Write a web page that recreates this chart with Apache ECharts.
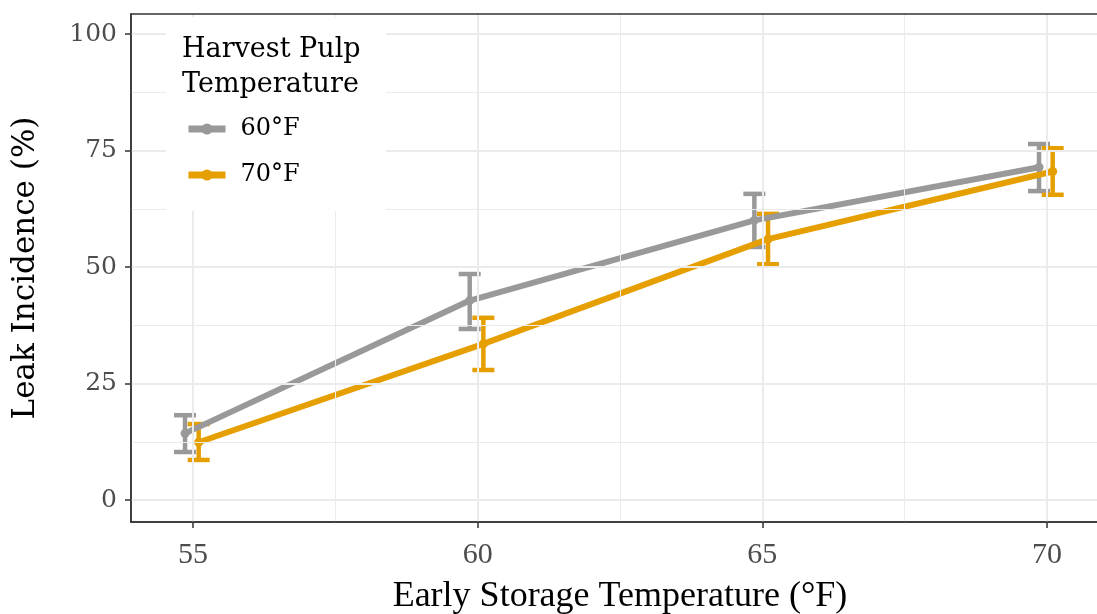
<!DOCTYPE html>
<html>
<head>
<meta charset="utf-8">
<script src="https://cdn.jsdelivr.net/npm/echarts@6/dist/echarts.min.js"></script>
<style>
html,body{margin:0;padding:0;background:#fff;overflow:hidden;}
#chart{width:1097px;height:614px;}
</style>
</head>
<body>
<div id="chart"></div>
<script>
// ---- data ----
const storageTemps = [55, 60, 65, 70];
const xTicks = [55, 60, 65, 70];
const yTicks = [0, 25, 50, 75, 100];
const seriesNames = ['60°F', '70°F'];
const mean60 = [14.3, 42.8, 60.0, 71.4];
const lo60   = [10.3, 36.7, 54.3, 66.3];
const hi60   = [18.2, 48.5, 65.7, 76.4];
const mean70 = [12.4, 33.5, 56.0, 70.5];
const lo70   = [8.6, 27.9, 50.6, 65.5];
const hi70   = [16.3, 39.1, 61.4, 75.5];
const xMinorGrid = [57.5, 62.5, 67.5];
const yMinorGrid = [12.5, 37.5, 62.5, 87.5];

// ---- styling ----
const FONT = 'DejaVu Serif';
const FONT2 = 'Liberation Serif';
const colors = ['#999999', '#E69F00'];
const dodge = [-0.14, 0.10];

const chart = echarts.init(document.getElementById('chart'), null, {renderer: 'canvas'});

function pts(means, d) { return storageTemps.map((x, i) => [x + d, means[i]]); }
function bars(lo, hi, d) { return storageTemps.map((x, i) => [x + d, lo[i], hi[i]]); }

function errRender(color) {
  return function (params, api) {
    const x = api.value(0);
    const top = api.coord([x, api.value(2)]);
    const bot = api.coord([x, api.value(1)]);
    const hw = 11;
    const style = {stroke: color, lineWidth: 4.5, fill: null};
    return {
      type: 'group',
      children: [
        {type: 'line', shape: {x1: top[0], y1: top[1], x2: bot[0], y2: bot[1]}, style},
        {type: 'line', shape: {x1: top[0] - hw, y1: top[1], x2: top[0] + hw, y2: top[1]}, style},
        {type: 'line', shape: {x1: bot[0] - hw, y1: bot[1], x2: bot[0] + hw, y2: bot[1]}, style}
      ]
    };
  };
}

const gridLineData = []
  .concat(xTicks.map(v => ({xAxis: v, lineStyle: {width: 2}})))
  .concat(xMinorGrid.map(v => ({xAxis: v, lineStyle: {width: 1}})))
  .concat(yTicks.map(v => ({yAxis: v, lineStyle: {width: 2}})))
  .concat(yMinorGrid.map(v => ({yAxis: v, lineStyle: {width: 1}})));

const option = {
  animation: false,
  backgroundColor: '#ffffff',
  grid: {left: 131, top: 14, width: 978, height: 508, outerBoundsMode: 'none', containLabel: false,
    show: true, borderColor: '#333333', borderWidth: 1.5, backgroundColor: 'transparent', z: 6},
  title: {
    text: 'Harvest Pulp\nTemperature',
    left: 182, top: 32, padding: 0, z: 12,
    textStyle: {fontFamily: FONT, fontSize: 27, fontWeight: 'normal', color: '#000', lineHeight: 35}
  },
  legend: {
    data: seriesNames,
    orient: 'vertical',
    left: 185, top: 117, padding: 0, z: 12,
    itemWidth: 37, itemHeight: 14, itemGap: 22,
    lineStyle: {width: 7},
    itemStyle: {borderWidth: 0},
    textStyle: {fontFamily: FONT, fontSize: 24, color: '#000', padding: [0, 0, 0, 10]}
  },
  graphic: [{
    type: 'rect', left: 166, top: 17, z: 10,
    shape: {width: 220, height: 194},
    style: {fill: '#ffffff'}
  }],
  xAxis: {
    type: 'value', min: 53.911, max: 71.089,
    name: 'Early Storage Temperature (°F)', nameLocation: 'middle', nameGap: 57,
    nameTextStyle: {fontFamily: FONT2, fontSize: 36, color: '#000'},
    axisLine: {show: true, onZero: false, lineStyle: {color: '#333333', width: 1.5}},
    axisTick: {show: true, customValues: xTicks, length: 6, lineStyle: {color: '#333333', width: 1.5}},
    axisLabel: {customValues: xTicks, margin: 18, fontFamily: FONT2, fontSize: 30, color: '#4d4d4d'},
    splitLine: {show: false}
  },
  yAxis: {
    type: 'value', min: -4.72, max: 104.3,
    name: 'Leak Incidence (%)', nameLocation: 'middle', nameGap: 90,
    nameTextStyle: {fontFamily: FONT, fontSize: 31, color: '#000'},
    axisLine: {show: true, onZero: false, lineStyle: {color: '#333333', width: 1.5}},
    axisTick: {show: true, customValues: yTicks, length: 6, lineStyle: {color: '#333333', width: 1.5}},
    axisLabel: {customValues: yTicks, margin: 14, fontFamily: FONT, fontSize: 25, color: '#4d4d4d'},
    splitLine: {show: false}
  },
  series: [
    {
      name: '_grid', type: 'line', data: [], z: 1, silent: true,
      markLine: {silent: true, symbol: 'none', label: {show: false}, animation: false,
        lineStyle: {color: '#ebebeb', type: 'solid'}, data: gridLineData}
    },
    {
      name: seriesNames[0] + ' err', type: 'custom', z: 3, data: bars(lo60, hi60, dodge[0]),
      renderItem: errRender(colors[0]), encode: {x: 0, y: [1, 2]}
    },
    {
      name: seriesNames[1] + ' err', type: 'custom', z: 3, data: bars(lo70, hi70, dodge[1]),
      renderItem: errRender(colors[1]), encode: {x: 0, y: [1, 2]}
    },
    {
      name: seriesNames[0], type: 'line', z: 4, data: pts(mean60, dodge[0]),
      symbol: 'circle', symbolSize: 9, showSymbol: true,
      itemStyle: {color: colors[0], borderWidth: 0}, lineStyle: {color: colors[0], width: 6}
    },
    {
      name: seriesNames[1], type: 'line', z: 4, data: pts(mean70, dodge[1]),
      symbol: 'circle', symbolSize: 9, showSymbol: true,
      itemStyle: {color: colors[1], borderWidth: 0}, lineStyle: {color: colors[1], width: 6}
    }
  ]
};
chart.setOption(option);
</script>
</body>
</html>
